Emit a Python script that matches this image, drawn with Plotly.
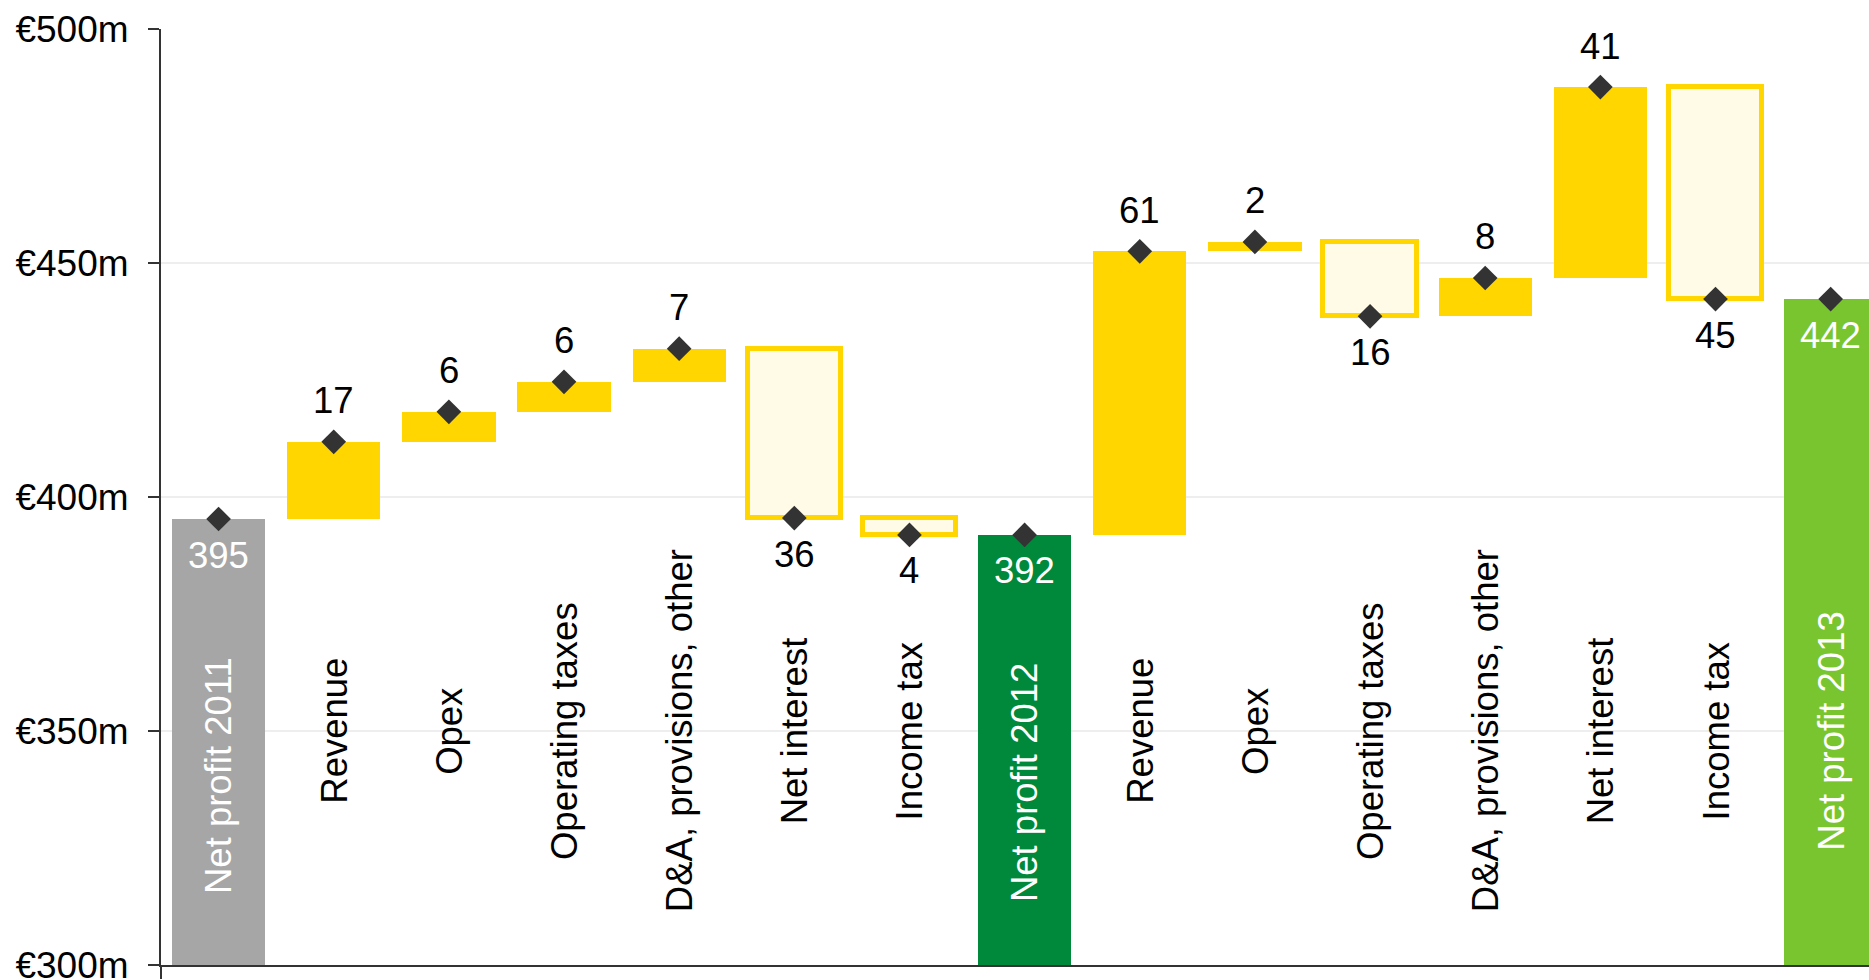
import plotly.graph_objects as go

# ---------------- data ----------------
categories = ["Net profit 2011", "Revenue", "Opex", "Operating taxes", "D&A, provisions, other",
              "Net interest", "Income tax", "Net profit 2012", "Revenue", "Opex", "Operating taxes",
              "D&A, provisions, other", "Net interest", "Income tax", "Net profit 2013"]
start_value = 395.3
steps_2012 = [16.5, 6.4, 6.4, 7.1, -36.2, -3.6]
steps_2013 = [60.6, 2.0, -15.9, 8.2, 40.8, -45.3]
value_labels = ["395", "17", "6", "6", "7", "36", "4", "392", "61", "2", "16", "8", "41", "45", "442"]

# ---------------- styles ----------------
YELLOW = "#FFD600"
CREAM = "#FFFBE6"
TOTAL_COLORS = {0: "#A6A6A6", 7: "#00893A", 14: "#79C530"}
FONT = "Liberation Sans, Arial, sans-serif"
label_y = {0: 340.5, 7: 339.0}   # vertical centre of rotated category labels (totals)
default_label_y = 350.0

# ---------------- build waterfall geometry ----------------
bases, heights, ends, kinds = [], [], [], []
cum = start_value
bases.append(300); heights.append(cum - 300); ends.append(cum); kinds.append("total")
for s in steps_2012:
    lo = min(cum, cum + s)
    bases.append(lo); heights.append(abs(s)); cum += s; ends.append(cum)
    kinds.append("up" if s > 0 else "down")
bases.append(300); heights.append(cum - 300); ends.append(cum); kinds.append("total")
for s in steps_2013:
    lo = min(cum, cum + s)
    bases.append(lo); heights.append(abs(s)); cum += s; ends.append(cum)
    kinds.append("up" if s > 0 else "down")
bases.append(300); heights.append(cum - 300); ends.append(cum); kinds.append("total")

xs = list(range(len(categories)))
fill, line_col, line_w = [], [], []
for i, k in enumerate(kinds):
    if k == "total":
        fill.append(TOTAL_COLORS[i]); line_col.append(TOTAL_COLORS[i]); line_w.append(0)
    elif k == "up":
        fill.append(YELLOW); line_col.append(YELLOW); line_w.append(0)
    else:
        fill.append(CREAM); line_col.append(YELLOW); line_w.append(5)

fig = go.Figure()
fig.add_trace(go.Bar(
    x=xs, y=heights, base=bases, width=0.81,
    marker=dict(color=fill, line=dict(color=line_col, width=line_w)),
    hoverinfo="skip", showlegend=False,
))
fig.add_trace(go.Scatter(
    x=xs, y=ends, mode="markers",
    marker=dict(symbol="diamond", size=19, color="#333333"),
    hoverinfo="skip", showlegend=False, cliponaxis=False,
))

annotations = []
for i, (cat, k, e, lab) in enumerate(zip(categories, kinds, ends, value_labels)):
    # value label
    if k == "up":
        annotations.append(dict(x=i, y=e, text=lab, showarrow=False, yanchor="middle",
                                yshift=41, font=dict(size=36.5, color="#000000", family=FONT)))
    elif k == "down":
        annotations.append(dict(x=i, y=e, text=lab, showarrow=False, yanchor="middle",
                                yshift=-36, font=dict(size=36.5, color="#000000", family=FONT)))
    else:
        annotations.append(dict(x=i, y=e, text=lab, showarrow=False, yanchor="middle",
                                yshift=-36, font=dict(size=36.5, color="#FFFFFF", family=FONT)))
    # category label (rotated)
    annotations.append(dict(x=i, y=label_y.get(i, default_label_y), text=cat, showarrow=False,
                            textangle=-90, xanchor="center", yanchor="middle",
                            font=dict(size=36.5, color="#FFFFFF" if k == "total" else "#000000",
                                      family=FONT)))

fig.update_layout(
    width=1869, height=980,
    margin=dict(l=161, r=0, t=29, b=15, autoexpand=False),
    plot_bgcolor="#FFFFFF", paper_bgcolor="#FFFFFF",
    font=dict(family=FONT, size=37, color="#000000"),
    bargap=0,
    annotations=annotations,
    xaxis=dict(range=[-0.5, 14.333], showgrid=False, zeroline=False, automargin=False,
               showline=True, linecolor="#333333", linewidth=2,
               tickvals=[-0.5], ticktext=[""], ticks="outside", ticklen=12,
               tickwidth=2, tickcolor="#333333"),
    yaxis=dict(range=[300, 500], tickvals=[300, 350, 400, 450, 500],
               ticktext=["€300m", "€350m", "€400m", "€450m", "€500m"],
               showgrid=True, gridcolor="#EEEEEE", gridwidth=1.5, zeroline=False,
               automargin=False,
               showline=True, linecolor="#333333", linewidth=2,
               ticks="outside", ticklen=11, tickwidth=2, tickcolor="#333333",
               ticklabelstandoff=12, ticklabeloverflow="allow",
               tickfont=dict(size=37, family=FONT, color="#000000")),
)

fig.write_html("out.html")
